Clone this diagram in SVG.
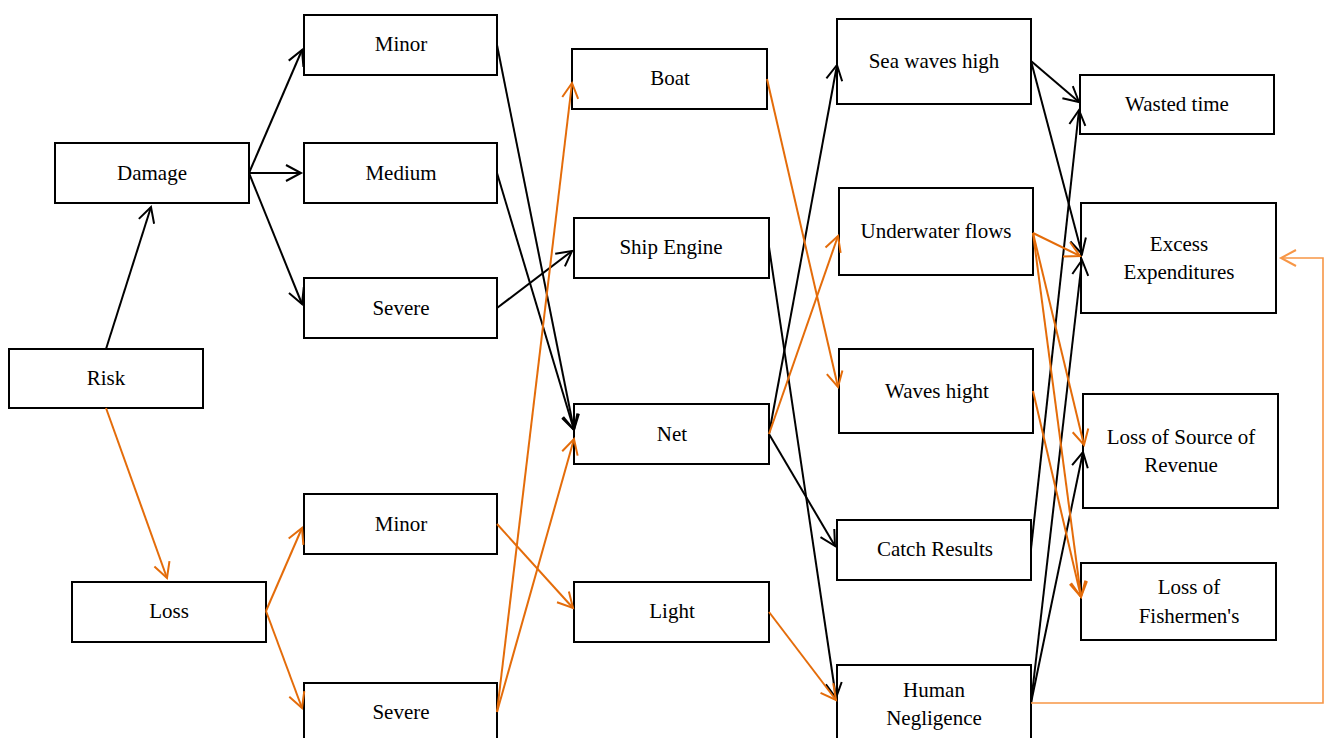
<svg xmlns="http://www.w3.org/2000/svg" width="1325" height="738" viewBox="0 0 1325 738">
<style>
.box{fill:#fff;stroke:#000;stroke-width:2}
text{font-family:"Liberation Serif","Times New Roman",serif;font-size:21px;fill:#000;text-anchor:middle}
.k{stroke:#000;stroke-width:2;fill:none;marker-end:url(#ak)}
.o{stroke:#E46C0A;stroke-width:2;fill:none;marker-end:url(#ao)}
.fb{stroke:#F79646;stroke-width:1.6;fill:none;marker-end:url(#af)}
</style>
<defs>
<marker id="ak" markerUnits="userSpaceOnUse" viewBox="-18 -10 20 20" refX="0" refY="0" markerWidth="20" markerHeight="20" orient="auto" overflow="visible"><path d="M-15,-8 L0,0 L-15,8" fill="none" stroke="#000" stroke-width="2"/></marker>
<marker id="ao" markerUnits="userSpaceOnUse" viewBox="-18 -10 20 20" refX="0" refY="0" markerWidth="20" markerHeight="20" orient="auto" overflow="visible"><path d="M-15,-8 L0,0 L-15,8" fill="none" stroke="#E46C0A" stroke-width="2"/></marker>
<marker id="af" markerUnits="userSpaceOnUse" viewBox="-18 -10 20 20" refX="0" refY="0" markerWidth="20" markerHeight="20" orient="auto" overflow="visible"><path d="M-15,-8 L0,0 L-15,8" fill="none" stroke="#F79646" stroke-width="2"/></marker>
</defs>
<rect width="1325" height="738" fill="#fff"/>
<g id="risk"><rect class="box" x="9" y="349" width="194" height="59"/><text x="106" y="385">Risk</text></g>
<g id="damage"><rect class="box" x="55" y="143" width="194" height="60"/><text x="152" y="180">Damage</text></g>
<g id="loss"><rect class="box" x="72" y="582" width="194" height="60"/><text x="169" y="618">Loss</text></g>
<g id="minor-damage"><rect class="box" x="304" y="15" width="193" height="60"/><text x="401" y="51">Minor</text></g>
<g id="medium"><rect class="box" x="304" y="143" width="193" height="60"/><text x="401" y="180">Medium</text></g>
<g id="severe-damage"><rect class="box" x="304" y="278" width="193" height="60"/><text x="401" y="315">Severe</text></g>
<g id="minor-loss"><rect class="box" x="304" y="494" width="193" height="60"/><text x="401" y="531">Minor</text></g>
<g id="severe-loss"><rect class="box" x="304" y="683" width="193" height="62"/><text x="401" y="719">Severe</text></g>
<g id="boat"><rect class="box" x="572" y="49" width="195" height="60"/><text x="670" y="85">Boat</text></g>
<g id="ship-engine"><rect class="box" x="574" y="218" width="195" height="60"/><text x="671" y="254">Ship Engine</text></g>
<g id="net"><rect class="box" x="574" y="404" width="195" height="60"/><text x="672" y="441">Net</text></g>
<g id="light"><rect class="box" x="574" y="582" width="195" height="60"/><text x="672" y="618">Light</text></g>
<g id="sea-waves-high"><rect class="box" x="837" y="19" width="194" height="85"/><text x="934" y="68">Sea waves high</text></g>
<g id="underwater-flows"><rect class="box" x="839" y="188" width="194" height="87"/><text x="936" y="238">Underwater flows</text></g>
<g id="waves-hight"><rect class="box" x="839" y="349" width="194" height="84"/><text x="937" y="398">Waves hight</text></g>
<g id="catch-results"><rect class="box" x="837" y="520" width="194" height="60"/><text x="935" y="556">Catch Results</text></g>
<g id="human-negligence"><rect class="box" x="837" y="665" width="194" height="80"/><text x="934" y="697">Human</text><text x="934" y="725">Negligence</text></g>
<g id="wasted-time"><rect class="box" x="1080" y="75" width="194" height="59"/><text x="1177" y="111">Wasted time</text></g>
<g id="excess-expenditures"><rect class="box" x="1081" y="203" width="195" height="110"/><text x="1179" y="251">Excess</text><text x="1179" y="279">Expenditures</text></g>
<g id="loss-source-revenue"><rect class="box" x="1083" y="394" width="195" height="114"/><text x="1181" y="444">Loss of Source of</text><text x="1181" y="472">Revenue</text></g>
<g id="loss-fishermen"><rect class="box" x="1081" y="563" width="195" height="77"/><text x="1189" y="594">Loss of</text><text x="1189" y="623">Fishermen's</text></g>
<g id="connectors">
<line class="k" x1="106" y1="349" x2="151" y2="207"/>
<line class="k" x1="249" y1="173" x2="302" y2="50"/>
<line class="k" x1="249" y1="173" x2="301" y2="173"/>
<line class="k" x1="249" y1="173" x2="302" y2="304"/>
<line class="k" x1="497" y1="45" x2="574" y2="430"/>
<line class="k" x1="497" y1="173" x2="574" y2="430"/>
<line class="k" x1="497" y1="308" x2="572" y2="251"/>
<line class="k" x1="769" y1="247" x2="836" y2="698"/>
<line class="k" x1="769" y1="434" x2="837" y2="65"/>
<line class="k" x1="769" y1="434" x2="835" y2="546"/>
<line class="k" x1="1031" y1="61" x2="1079" y2="102"/>
<line class="k" x1="1031" y1="61" x2="1082" y2="254"/>
<line class="k" x1="1031" y1="549" x2="1079" y2="110"/>
<line class="k" x1="1031" y1="703" x2="1082" y2="260"/>
<line class="k" x1="1031" y1="703" x2="1083" y2="452"/>
<line class="o" x1="106" y1="408" x2="167" y2="578"/>
<line class="o" x1="266" y1="611" x2="302" y2="528"/>
<line class="o" x1="266" y1="611" x2="302" y2="708"/>
<line class="o" x1="497" y1="712" x2="572" y2="83"/>
<line class="o" x1="497" y1="712" x2="574" y2="439"/>
<line class="o" x1="497" y1="524" x2="573" y2="608"/>
<line class="o" x1="767" y1="79" x2="838" y2="387"/>
<line class="o" x1="769" y1="434" x2="838" y2="236"/>
<line class="o" x1="769" y1="612" x2="836" y2="700"/>
<line class="o" x1="1033" y1="233" x2="1080" y2="256"/>
<line class="o" x1="1033" y1="233" x2="1084" y2="445"/>
<line class="o" x1="1033" y1="233" x2="1081" y2="597"/>
<line class="o" x1="1033" y1="391" x2="1081" y2="597"/>
<polyline class="fb" points="1031,703 1323,703 1323,258 1281,258"/>
</g>
</svg>
